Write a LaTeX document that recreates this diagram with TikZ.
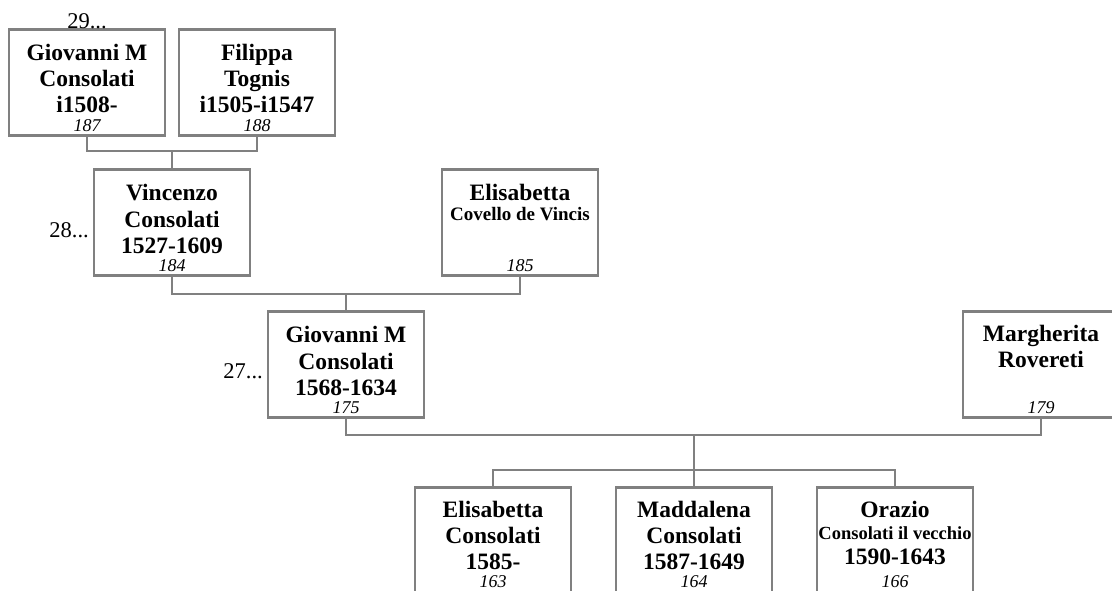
\documentclass[tikz,border=0pt]{standalone}
\usepackage{fontspec}
\setmainfont{Liberation Serif}
\definecolor{boxgray}{RGB}{128,128,128}
\begin{document}
\begin{tikzpicture}[x=1pt,y=-1pt,
  person/.style={draw=boxgray,line width=2.8pt,fill=white,minimum width=156pt,minimum height=106pt,inner sep=0pt,outer sep=0pt},
  nm/.style={anchor=base,inner sep=0pt,font=\fontsize{23.5}{26}\selectfont\bfseries},
  sm/.style={anchor=base,inner sep=0pt,font=\fontsize{19}{21}\selectfont\bfseries},
  num/.style={anchor=base,inner sep=0pt,font=\fontsize{18}{20}\selectfont\itshape},
  gen/.style={inner sep=0pt,font=\fontsize{22.5}{24}\selectfont},
  conn/.style={draw=boxgray,line width=2.8pt}]
\useasboundingbox (0,0) rectangle (1112,591);
% boxes
\node[person] (A) at (87,82.5) {};
\node[person] (B) at (257,82.5) {};
\node[person] (C) at (172,222.5) {};
\node[person] (D) at (520,222.5) {};
\node[person] (E) at (346,364.5) {};
\node[person] (F) at (1041,364.5) {};
\node[person] (G) at (493,540.5) {};
\node[person] (H) at (694,540.5) {};
\node[person] (I) at (895,540.5) {};
% connectors
\coordinate (m1) at (172,151);
\coordinate (m2) at (346,294);
\coordinate (m3) at (694,435);
\coordinate (k) at (694,470);
\draw[conn] (A.south) |- (m1) -| (B.south);
\draw[conn] (m1) -- (C.north);
\draw[conn] (C.south) |- (m2) -| (D.south);
\draw[conn] (m2) -- (E.north);
\draw[conn] (E.south) |- (m3) -| (F.south);
\draw[conn] (m3) -- (k);
\draw[conn] (G.north) |- (k) -| (I.north);
\draw[conn] (k) -- (H.north);
% texts
\path (A.north) ++(0,31) node[nm] (a1) {Giovanni M} ++(0,26.5) node[nm] (a2) {Consolati} ++(0,26) node[nm] (a3) {i1508-};
\path (A.south) ++(0,-4) node[num] (a4) {187};
\path (B.north) ++(0,31) node[nm] (b1) {Filippa} ++(0,26.5) node[nm] (b2) {Tognis} ++(0,26) node[nm] (b3) {i1505-i1547};
\path (B.south) ++(0,-4) node[num] (b4) {188};
\path (C.north) ++(0,31) node[nm] (c1) {Vincenzo} ++(0,26.5) node[nm] (c2) {Consolati} ++(0,26) node[nm] (c3) {1527-1609};
\path (C.south) ++(0,-4) node[num] (c4) {184};
\path (D.north) ++(0,31) node[nm] (d1) {Elisabetta} ++(0,20) node[sm] (d2) {Covello de Vincis};
\path (D.south) ++(0,-4) node[num] (d4) {185};
\path (E.north) ++(0,31) node[nm] (e1) {Giovanni M} ++(0,26.5) node[nm] (e2) {Consolati} ++(0,26) node[nm] (e3) {1568-1634};
\path (E.south) ++(0,-4) node[num] (e4) {175};
\path (F.north) ++(0,30) node[nm] (f1) {Margherita} ++(0,26) node[nm] (f2) {Rovereti};
\path (F.south) ++(0,-4) node[num] (f4) {179};
\path (G.north) ++(0,30) node[nm] (g1) {Elisabetta} ++(0,26) node[nm] (g2) {Consolati} ++(0,26) node[nm] (g3) {1585-};
\path (G.south) ++(0,-6) node[num] (g4) {163};
\path (H.north) ++(0,30) node[nm] (h1) {Maddalena} ++(0,26) node[nm] (h2) {Consolati} ++(0,26) node[nm] (h3) {1587-1649};
\path (H.south) ++(0,-6) node[num] (h4) {164};
\path (I.north) ++(0,30) node[nm] (i1) {Orazio} ++(0,22) node[sm,font=\fontsize{18.5}{20}\selectfont\bfseries] (i2) {Consolati il vecchio} ++(0,25) node[nm] (i3) {1590-1643};
\path (I.south) ++(0,-6) node[num] (i4) {166};
% generation labels
\node[gen,anchor=base] (l29) at ([yshift=1pt]A.north) {29...};
\node[gen,anchor=base east] (l28) at ([xshift=-5pt,yshift=-14.5pt]C.west) {28...};
\node[gen,anchor=base east] (l27) at ([xshift=-5pt,yshift=-13.5pt]E.west) {27...};
\end{tikzpicture}
\end{document}
